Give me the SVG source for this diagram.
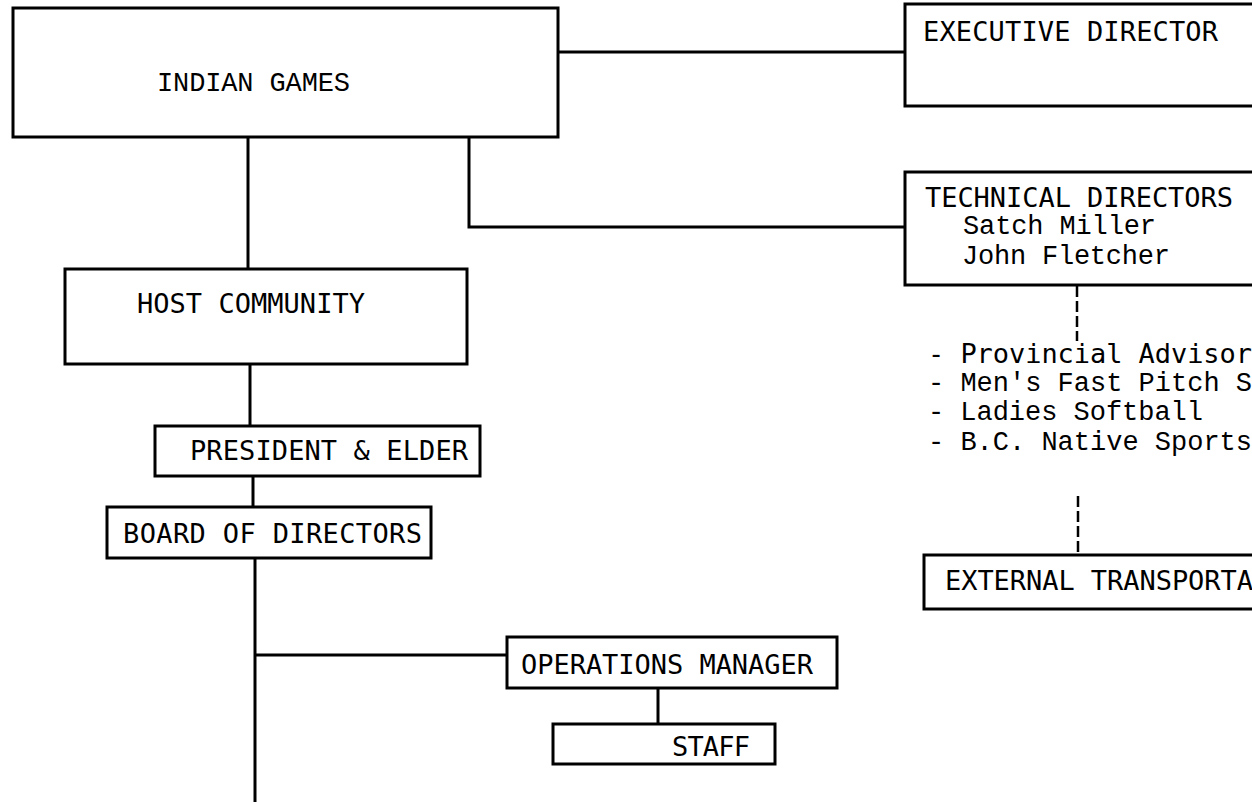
<svg xmlns="http://www.w3.org/2000/svg" width="1252" height="802" viewBox="0 0 1252 802">
<style>
.box{fill:#fff;stroke:#000;stroke-width:3}
.ln{fill:none;stroke:#000;stroke-width:3}
.dash{fill:none;stroke:#000;stroke-width:2.5;stroke-dasharray:11 4}
.sans{font-family:"DejaVu Sans Mono","Liberation Mono",monospace;font-size:27px;fill:#000}
.cour{font-family:"Liberation Mono","Courier New",monospace;font-size:27px;fill:#000}
</style>
<rect width="1252" height="802" fill="#fff"/>
<g id="connectors">
<path class="ln" d="M558 52H905"/>
<path class="ln" d="M248 137V269"/>
<path class="ln" d="M469 137V227H905"/>
<path class="ln" d="M250 364V426"/>
<path class="ln" d="M253 476V507"/>
<path class="ln" d="M255 558V802"/>
<path class="ln" d="M255 655H507"/>
<path class="ln" d="M658 688V724"/>
<path class="dash" d="M1077 286V341"/>
<path class="dash" d="M1078 496V555"/>
</g>
<g id="indian-games">
<rect class="box" x="13" y="8" width="545" height="129"/>
<text class="cour" x="157" y="91" textLength="193">INDIAN GAMES</text>
</g>
<g id="executive-director">
<rect class="box" x="905" y="4" width="360" height="102"/>
<text class="sans" x="923" y="41" textLength="295">EXECUTIVE DIRECTOR</text>
</g>
<g id="technical-directors">
<rect class="box" x="905" y="172" width="360" height="113"/>
<text class="sans" x="925" y="207" textLength="308">TECHNICAL DIRECTORS</text>
<text class="cour" x="963" y="234" textLength="193">Satch Miller</text>
<text class="cour" x="962" y="264" textLength="208">John Fletcher</text>
</g>
<g id="advisors">
<text class="sans" x="928" y="363" textLength="324">- Provincial Advisor</text>
<text class="cour" x="928" y="391" textLength="324">- Men's Fast Pitch S</text>
<text class="cour" x="928" y="420" textLength="275">- Ladies Softball</text>
<text class="cour" x="928" y="450" textLength="324">- B.C. Native Sports</text>
</g>
<g id="external-transportation">
<rect class="box" x="924" y="555" width="340" height="54"/>
<text class="sans" x="945" y="590" textLength="308">EXTERNAL TRANSPORTA</text>
</g>
<g id="host-community">
<rect class="box" x="65" y="269" width="402" height="95"/>
<text class="sans" x="137" y="313" textLength="228">HOST COMMUNITY</text>
</g>
<g id="president-elder">
<rect class="box" x="155" y="426" width="325" height="50"/>
<text class="sans" x="190" y="460" textLength="278">PRESIDENT &amp; ELDER</text>
</g>
<g id="board-of-directors">
<rect class="box" x="107" y="507" width="324" height="51"/>
<text class="sans" x="123" y="543" textLength="299">BOARD OF DIRECTORS</text>
</g>
<g id="operations-manager">
<rect class="box" x="507" y="637" width="330" height="51"/>
<text class="sans" x="521" y="674" textLength="292">OPERATIONS MANAGER</text>
</g>
<g id="staff">
<rect class="box" x="553" y="724" width="222" height="40"/>
<text class="sans" x="672" y="756" textLength="78">STAFF</text>
</g>
</svg>
